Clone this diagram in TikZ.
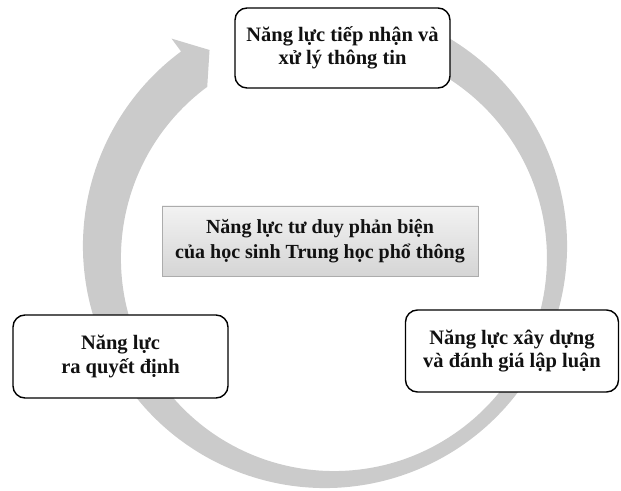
\documentclass[tikz,border=0pt]{standalone}
\usepackage{fontspec}
\setmainfont{Liberation Serif}
\definecolor{ringgray}{HTML}{CBCBCB}
\definecolor{txt}{HTML}{111111}
\begin{document}
\begin{tikzpicture}[x=1pt,y=1pt,
  box/.style={draw=black, line width=1.4pt, rounded corners=12pt, fill=white,
    align=center, inner sep=0pt, text=txt,
    font=\fontsize{20.5}{23.5}\selectfont\bfseries},
  centerbox/.style={draw=gray!65, line width=0.8pt, top color=gray!10, bottom color=gray!33,
    align=center, inner sep=0pt, text=txt,
    font=\fontsize{20}{25}\selectfont\bfseries}]
\useasboundingbox (0,0) rectangle (621,490);
\coordinate (C) at (325,244);
% circular arrow
\begin{scope}[shift={(C)}]
\fill[ringgray] (70:242) arc[start angle=70, end angle=-233.5, radius=242]
  -- (-233.5:258) -- (-239.5:227.5) -- (-233.5:198)
  arc[start angle=-233.5, end angle=70, radius=213] -- cycle;
\end{scope}
% boxes
\node[box, minimum width=215, minimum height=80] (top) at (342.5,442)
  {Năng lực tiếp nhận và\\xử lý thông tin};
\node[box, minimum width=215, minimum height=83] (left) at (120.5,133.5)
  {Năng lực\\ra quyết định};
\node[box, minimum width=213, minimum height=82] (right) at (512,139)
  {Năng lực xây dựng\\và đánh giá lập luận};
\node[centerbox, minimum width=316, minimum height=70] (center) at (320,249)
  {Năng lực tư duy phản biện\\của học sinh Trung học phổ thông};
\end{tikzpicture}
\end{document}
